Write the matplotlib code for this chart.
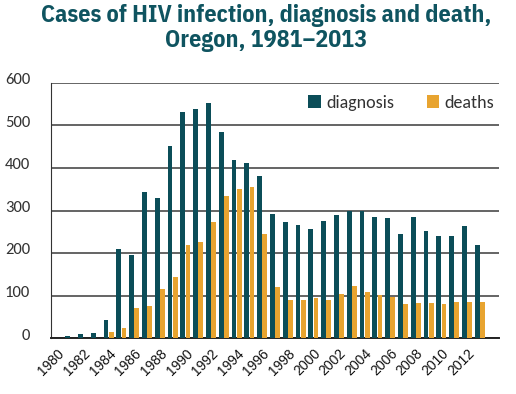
import numpy as np
import matplotlib.pyplot as plt
import matplotlib.transforms as mtransforms

# data
years = list(range(1980, 2015))
diagnosis = [0, 4, 9, 11, 42, 209, 195, 344, 330, 452, 532, 539, 552, 485, 419, 412,
             381, 292, 273, 266, 256, 275, 289, 299, 300, 285, 282, 245, 285, 252,
             240, 240, 264, 219, 0]
deaths = [0, 0, 0, 0, 13, 24, 71, 75, 116, 144, 219, 226, 273, 334, 351, 355,
          245, 119, 89, 89, 94, 89, 103, 122, 108, 101, 97, 79, 82, 82,
          79, 84, 84, 84, 0]
tick_years = list(range(1980, 2013, 2))

teal = "#0b4d58"
gold = "#e8a430"
body_font = ["Carlito", "Open Sans", "DejaVu Sans"]

fig = plt.figure(figsize=(5.16, 3.94), dpi=100)
ax = fig.add_axes([51 / 516, 1 - 338 / 394, 448 / 516, 255 / 394])

x = np.arange(len(years))
w = 0.38
ax.bar(x - 0.2, diagnosis, w, color=teal, label="diagnosis", zorder=3)
ax.bar(x + 0.2, deaths, w, color=gold, label="deaths", zorder=3)

ax.set_xlim(-0.5, len(years) - 0.5)
ax.set_ylim(0, 600)
ax.set_yticks(range(0, 601, 100))
ax.yaxis.grid(True, color="#4a4a4a", lw=1.2, zorder=0)
for s in ["top", "right"]:
    ax.spines[s].set_visible(False)
ax.spines["left"].set_color("#333333")
ax.spines["bottom"].set_color("#222222")
ax.spines["bottom"].set_linewidth(1.4)

ax.set_xticks([years.index(y) for y in tick_years])
ax.set_xticklabels([str(y) for y in tick_years], rotation=45, ha="right",
                   rotation_mode="anchor", fontsize=10, color="#111111",
                   family="Liberation Sans")
ax.tick_params(axis="x", length=0, pad=6)
ax.tick_params(axis="y", length=0, pad=15, labelsize=12, labelcolor="#333333")
shift = mtransforms.ScaledTranslation(0, 4 / 100, fig.dpi_scale_trans)
for lab in ax.get_yticklabels():
    lab.set_family(body_font)
    lab.set_transform(lab.get_transform() + shift)

leg = ax.legend(loc="upper right", ncol=2, frameon=False,
                prop={"family": body_font, "size": 13},
                handlelength=0.7, handleheight=0.7, handletextpad=0.3,
                columnspacing=1.8, borderaxespad=0.1,
                bbox_to_anchor=(1.01, 0.99))
for t in leg.get_texts():
    t.set_color("#333333")

fig.text(0.515, 0.99, "Cases of HIV infection, diagnosis and death,\nOregon, 1981\u20132013",
         ha="center", va="top", fontsize=17.3, fontweight="bold", color="#0f5460",
         family=["IBM Plex Sans Condensed", "DejaVu Sans"], linespacing=1.12)

fig.savefig("out.png", dpi=100)
